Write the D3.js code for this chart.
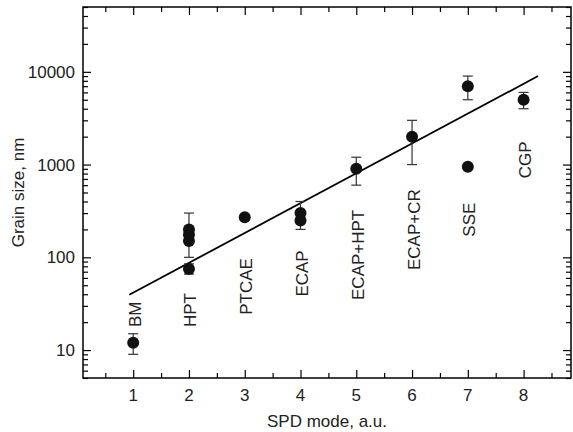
<!DOCTYPE html>
<html>
<head>
<meta charset="utf-8">
<script src="https://cdn.jsdelivr.net/npm/d3@7"></script>
<style>
  body { margin: 0; background: #fff; }
  svg { display: block; font-family: "Liberation Sans", Arial, sans-serif; }
</style>
</head>
<body>
<svg id="chart" width="573" height="432"></svg>
<script>
// SPD modes and measured grain sizes (nm)
const modes = ['BM', 'HPT', 'PTCAE', 'ECAP', 'ECAP+HPT', 'ECAP+CR', 'SSE', 'CGP'];
const pointX = [1, 2, 2, 2, 2, 3, 4, 4, 5, 6, 7, 7, 8];
const pointY = [12, 200, 175, 150, 75, 270, 300, 250, 900, 2000, 7000, 950, 5000];

// error bars: mode, low, high
const errX = [1, 2, 2, 4, 5, 6, 7, 8];
const errLow = [9, 100, 66, 200, 600, 1000, 5000, 4000];
const errHigh = [15, 300, 85, 400, 1200, 3000, 9000, 6000];

// linear fit in log scale, end points
const fitX = [0.93, 8.26];
const fitY = [39.5, 9000];

// where each rotated mode label starts (grain size units)
const labelAt = [17.7, 17.7, 24, 37.7, 34.7, 73, 167, 711];

const xTicks = [1, 2, 3, 4, 5, 6, 7, 8];
const yTicks = [10, 100, 1000, 10000];

const svg = d3.select('#chart');
const margin = {left: 83, top: 7, right: 571, bottom: 378};
const fs = 17;

const x = d3.scaleLinear().domain([0.1, 8.85]).range([margin.left, margin.right]);
const y = d3.scaleLog().domain([5, 50000]).range([margin.bottom, margin.top]);

// minor ticks
const xMinor = d3.range(0.5, 8.85, 0.5).filter(v => !xTicks.includes(v));
const yMinor = [];
[1, 10, 100, 1000, 10000].forEach(d => {
    for (let k = 2; k <= 9; k++) {
        const v = d * k;
        if (v >= 5 && v <= 50000) yMinor.push(v);
    }
});

const g = svg.append('g');

function tickAxis(axisFn, scale, ticks, size, transform) {
    const a = g.append('g')
        .attr('transform', transform)
        .call(axisFn(scale).tickValues(ticks).tickSize(size).tickFormat(''));
    a.select('.domain').remove();
    a.selectAll('line').attr('stroke', '#000').attr('stroke-width', 1.2);
    return a;
}

// inward ticks on all sides
tickAxis(d3.axisTop, x, xTicks, 8, `translate(0,${margin.bottom})`);
tickAxis(d3.axisTop, x, xMinor, 5, `translate(0,${margin.bottom})`);
tickAxis(d3.axisBottom, x, xTicks, 8, `translate(0,${margin.top})`);
tickAxis(d3.axisBottom, x, xMinor, 5, `translate(0,${margin.top})`);
tickAxis(d3.axisRight, y, yTicks, 8, `translate(${margin.left},0)`);
tickAxis(d3.axisRight, y, yMinor, 5, `translate(${margin.left},0)`);
tickAxis(d3.axisLeft, y, yTicks, 8, `translate(${margin.right},0)`);
tickAxis(d3.axisLeft, y, yMinor, 5, `translate(${margin.right},0)`);

// frame
g.append('rect')
    .attr('x', margin.left)
    .attr('y', margin.top)
    .attr('width', margin.right - margin.left)
    .attr('height', margin.bottom - margin.top)
    .attr('fill', 'none')
    .attr('stroke', '#000')
    .attr('stroke-width', 1.5);

// tick labels
g.selectAll('.xlab')
    .data(xTicks)
    .join('text')
    .attr('x', d => x(d))
    .attr('y', 401)
    .attr('text-anchor', 'middle')
    .attr('font-size', fs)
    .attr('fill', '#222')
    .text(d => d);

g.selectAll('.ylab')
    .data(yTicks)
    .join('text')
    .attr('x', 75)
    .attr('y', d => y(d) + 6)
    .attr('text-anchor', 'end')
    .attr('font-size', fs)
    .attr('fill', '#222')
    .text(d => d);

// axis titles
g.append('text')
    .attr('x', (margin.left + margin.right) / 2)
    .attr('y', 427)
    .attr('text-anchor', 'middle')
    .attr('font-size', fs)
    .attr('fill', '#222')
    .text('SPD mode, a.u.');

g.append('text')
    .attr('transform', `translate(24,${(margin.top + margin.bottom) / 2}) rotate(-90)`)
    .attr('text-anchor', 'middle')
    .attr('font-size', fs)
    .attr('fill', '#222')
    .text('Grain size, nm');

// fit line
g.append('line')
    .attr('x1', x(fitX[0])).attr('y1', y(fitY[0]))
    .attr('x2', x(fitX[1])).attr('y2', y(fitY[1]))
    .attr('stroke', '#000')
    .attr('stroke-width', 1.8);

// error bars
const errs = errX.map((d, i) => ({x: d, lo: errLow[i], hi: errHigh[i]}));
const eb = g.selectAll('.err').data(errs).join('g').attr('stroke', '#333').attr('stroke-width', 1.2);
eb.append('line')
    .attr('x1', d => x(d.x)).attr('x2', d => x(d.x))
    .attr('y1', d => y(d.lo)).attr('y2', d => y(d.hi));
eb.append('line')
    .attr('x1', d => x(d.x) - 5).attr('x2', d => x(d.x) + 5)
    .attr('y1', d => y(d.lo)).attr('y2', d => y(d.lo));
eb.append('line')
    .attr('x1', d => x(d.x) - 5).attr('x2', d => x(d.x) + 5)
    .attr('y1', d => y(d.hi)).attr('y2', d => y(d.hi));

// points
g.selectAll('.pt')
    .data(pointX.map((d, i) => ({x: d, y: pointY[i]})))
    .join('circle')
    .attr('cx', d => x(d.x))
    .attr('cy', d => y(d.y))
    .attr('r', 6)
    .attr('fill', '#111');

// mode labels
g.selectAll('.mode')
    .data(modes)
    .join('text')
    .attr('transform', (d, i) => `translate(${x(i + 1) + 7.5},${y(labelAt[i])}) rotate(-90)`)
    .attr('font-size', fs)
    .attr('fill', '#222')
    .text(d => d);
</script>
</body>
</html>
